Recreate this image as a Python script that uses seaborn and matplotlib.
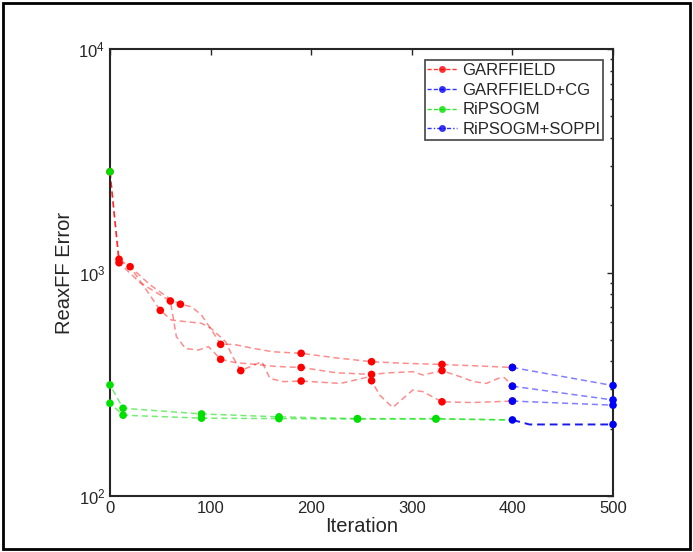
import pandas as pd
import matplotlib.pyplot as plt
import seaborn as sns
from matplotlib.lines import Line2D
from matplotlib.patches import Rectangle

# GARFFIELD runs (iteration, error, marker shown)
r1_iter = [0, 9, 20, 40, 60, 70, 81, 91, 101, 110, 123, 142, 162, 190, 225, 260, 295, 330, 365, 400]
r1_err = [2825, 1146, 1062, 880, 760, 721, 703, 645, 553, 477, 477, 458, 442, 435, 415, 399, 392, 388, 382, 376]
r1_mark = [1, 1, 0, 0, 0, 1, 0, 0, 0, 1, 0, 0, 0, 1, 0, 1, 0, 1, 0, 1]

r2_iter = [0, 9, 30, 60, 66, 75, 88, 98, 110, 125, 145, 165, 190, 225, 260, 278, 301, 311, 330, 348, 361, 374, 386, 392, 400]
r2_err = [2825, 1106, 900, 746, 517, 457, 450, 466, 409, 395, 388, 380, 376, 356, 350, 356, 360, 348, 364, 342, 325, 319, 336, 339, 310]
r2_mark = [0, 1, 0, 1, 0, 0, 0, 0, 1, 0, 0, 0, 1, 0, 1, 0, 0, 0, 1, 0, 0, 0, 0, 0, 1]

r3_iter = [0, 9, 20, 35, 50, 61, 75, 91, 101, 115, 122, 130, 151, 159, 172, 190, 229, 258, 260, 268, 281, 301, 311, 330, 360, 400]
r3_err = [2825, 1120, 1062, 850, 677, 613, 603, 593, 560, 490, 420, 364, 399, 336, 325, 327, 319, 342, 328, 283, 249, 298, 293, 264, 262, 266]
r3_mark = [0, 0, 1, 0, 1, 0, 0, 0, 0, 0, 0, 1, 0, 0, 0, 1, 0, 0, 1, 0, 0, 0, 0, 1, 0, 1]

# GARFFIELD+CG continuations
cg_iter = [400, 500]
cg1_err = [376, 312]
cg2_err = [310, 269]
cg3_err = [266, 255]

# RiPSOGM runs
g_iter = [0, 0, 13, 91, 168, 246, 324, 400]
g1_err = [2825, 314, 247, 233, 226, 222, 222, 219]
g1_mark = [1, 1, 1, 1, 1, 1, 1, 0]
g2_err = [2825, 260, 230, 223, 222, 221, 221, 219]
g2_mark = [0, 1, 1, 1, 1, 1, 1, 0]

# RiPSOGM+SOPPI continuation
sp_iter = [400, 417, 500]
sp_err = [219, 209, 209]
sp_mark = [1, 0, 1]

rows = []
def add_run(method, run, its, errs, marks):
    for i, e, m in zip(its, errs, marks):
        rows.append({'method': method, 'run': run, 'Iteration': i, 'Error': e, 'mark': m})

add_run('GARFFIELD', 'r1', r1_iter, r1_err, r1_mark)
add_run('GARFFIELD', 'r2', r2_iter, r2_err, r2_mark)
add_run('GARFFIELD', 'r3', r3_iter, r3_err, r3_mark)
add_run('GARFFIELD+CG', 'c1', cg_iter, cg1_err, [1, 1])
add_run('GARFFIELD+CG', 'c2', cg_iter, cg2_err, [1, 1])
add_run('GARFFIELD+CG', 'c3', cg_iter, cg3_err, [1, 1])
add_run('RiPSOGM', 'g1', g_iter, g1_err, g1_mark)
add_run('RiPSOGM', 'g2', g_iter, g2_err, g2_mark)
add_run('RiPSOGM+SOPPI', 's1', sp_iter, sp_err, sp_mark)
df = pd.DataFrame(rows)

sns.set_style('white')
plt.rcParams['font.family'] = ['Liberation Sans', 'DejaVu Sans']
plt.rcParams['mathtext.default'] = 'regular'

colors = {'GARFFIELD': '#ff0000', 'GARFFIELD+CG': '#0000ff',
          'RiPSOGM': '#00e000', 'RiPSOGM+SOPPI': '#0000ee'}
line_alpha = {'GARFFIELD': 0.45, 'GARFFIELD+CG': 0.5, 'RiPSOGM': 0.55, 'RiPSOGM+SOPPI': 0.9}
line_w = {'GARFFIELD': 1.1, 'GARFFIELD+CG': 1.1, 'RiPSOGM': 1.1, 'RiPSOGM+SOPPI': 1.4}

fig = plt.figure(figsize=(6.93, 5.52), dpi=100)
ax = fig.add_axes([0.1587, 0.1014, 0.7259, 0.8098])

for method in ['GARFFIELD', 'RiPSOGM', 'GARFFIELD+CG', 'RiPSOGM+SOPPI']:
    sub = df[df['method'] == method]
    sns.lineplot(data=sub, x='Iteration', y='Error', units='run', estimator=None, sort=False,
                 color=colors[method], alpha=line_alpha[method], lw=line_w[method],
                 linestyle=(0, (4, 2.5)), ax=ax, legend=False)
    pts = sub[sub['mark'] == 1]
    sns.scatterplot(data=pts, x='Iteration', y='Error', color=colors[method], s=30,
                    edgecolor='none', ax=ax, legend=False, zorder=5, clip_on=False)

ax.set_yscale('log')
ax.set_ylim(100, 10000)
ax.set_xlim(0, 500)
ax.set_xticks([0, 100, 200, 300, 400, 500])
ax.set_xlabel('Iteration', fontsize=14.5, labelpad=1)
ax.set_ylabel('ReaxFF Error', fontsize=14.5, labelpad=3)
ax.tick_params(which='both', direction='in', top=True, right=True, labelsize=12, color='#262626')
ax.tick_params(which='major', length=4, width=1)
ax.tick_params(which='minor', length=2.5, width=1)
for s in ax.spines.values():
    s.set_color('#262626')
    s.set_linewidth(1.5)

handles = []
for method in ['GARFFIELD', 'GARFFIELD+CG', 'RiPSOGM', 'RiPSOGM+SOPPI']:
    ls = (0, (3, 1.5, 1, 1.5)) if method == 'RiPSOGM+SOPPI' else (0, (3, 1.5))
    handles.append(Line2D([], [], color=colors[method], lw=1, alpha=0.8, linestyle=ls,
                          marker='o', markersize=5, markerfacecolor=colors[method],
                          markeredgecolor='none', label=method))
leg = ax.legend(handles=handles, loc='upper right', bbox_to_anchor=(0.98, 0.975),
                fontsize=12, frameon=True, fancybox=False, handlelength=1.8,
                handletextpad=0.3, borderpad=0.15, labelspacing=0.29, borderaxespad=0)
leg.get_frame().set_edgecolor('#262626')
leg.get_frame().set_linewidth(1.3)

fig.patches.append(Rectangle((0.004, 0.005), 0.992, 0.99, transform=fig.transFigure,
                             fill=False, edgecolor='black', lw=2))

fig.savefig('out.png', dpi=100)
